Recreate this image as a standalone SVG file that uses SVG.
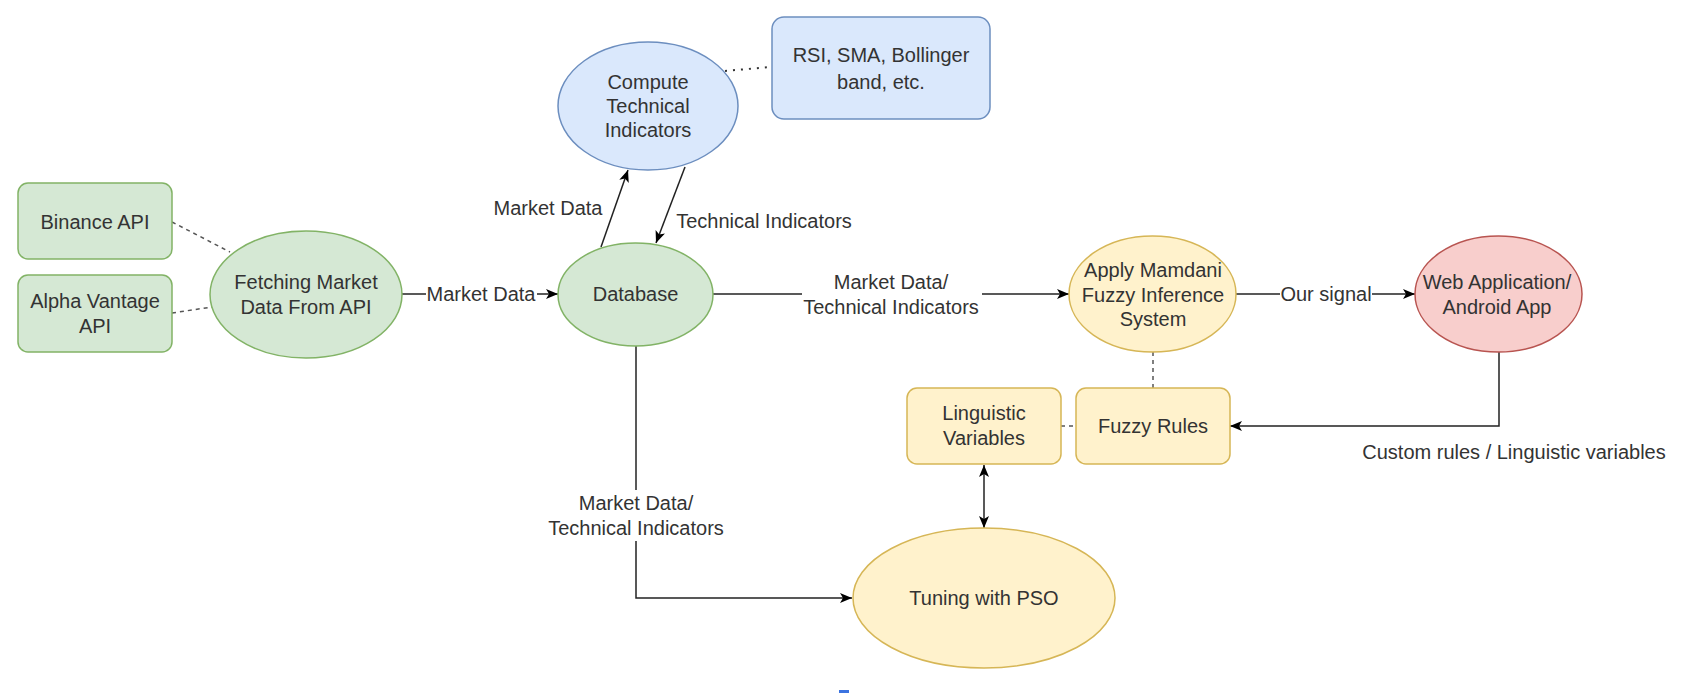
<svg xmlns="http://www.w3.org/2000/svg" width="1684" height="694" viewBox="0 0 1684 694">
<defs>
<style>
text{font-family:"Liberation Sans",Arial,sans-serif;font-size:20px;fill:#333333;text-anchor:middle;dominant-baseline:central}
.g{fill:#d5e8d4;stroke:#82b366;stroke-width:1.5}
.b{fill:#dae8fc;stroke:#6c8ebf;stroke-width:1.5}
.y{fill:#fff2cc;stroke:#d6b656;stroke-width:1.5}
.r{fill:#f8cecc;stroke:#b85450;stroke-width:1.5}
.ln{fill:none;stroke:#222222;stroke-width:1.5}
.ds{fill:none;stroke:#555555;stroke-width:1.5;stroke-dasharray:4 4}
.dt{fill:none;stroke:#333333;stroke-width:2;stroke-dasharray:2 6}
</style>
<marker id="arr" markerUnits="userSpaceOnUse" viewBox="0 0 12 10" refX="12" refY="5" markerWidth="12" markerHeight="10" orient="auto-start-reverse">
<path d="M0,0 L12,5 L0,10 L3,5 z" fill="#000000"/>
</marker>
</defs>
<rect width="1684" height="694" fill="#ffffff"/>

<g id="connectors">
<line class="ds" x1="172" y1="222" x2="230" y2="252"/>
<line class="ds" x1="172" y1="313" x2="212" y2="307"/>
<line class="dt" x1="725" y1="71" x2="770" y2="67"/>
<path class="ln" d="M402,294 L426,294"/>
<path class="ln" d="M537,294 L558,294" marker-end="url(#arr)"/>
<path class="ln" d="M601,247 L628,170" marker-end="url(#arr)"/>
<path class="ln" d="M685,167 L656,243" marker-end="url(#arr)"/>
<path class="ln" d="M713,294 L802,294"/>
<path class="ln" d="M982,294 L1069,294" marker-end="url(#arr)"/>
<path class="ln" d="M1236,294 L1280,294"/>
<path class="ln" d="M1372,294 L1415,294" marker-end="url(#arr)"/>
<path class="ln" d="M1499,352 L1499,426 L1230,426" marker-end="url(#arr)"/>
<line class="ds" x1="1153" y1="352" x2="1153" y2="388"/>
<line class="ds" x1="1061" y1="426" x2="1076" y2="426"/>
<path class="ln" d="M984,465 L984,528" marker-start="url(#arr)" marker-end="url(#arr)"/>
<path class="ln" d="M636,346 L636,490"/>
<path class="ln" d="M636,541 L636,598 L852,598" marker-end="url(#arr)"/>
<text x="481" y="294">Market Data</text>
<text x="548" y="208">Market Data</text>
<text x="764" y="221">Technical Indicators</text>
<text x="891" y="282">Market Data/</text>
<text x="891" y="307">Technical Indicators</text>
<text x="1326" y="294">Our signal</text>
<text x="1514" y="452">Custom rules / Linguistic variables</text>
<text x="636" y="503">Market Data/</text>
<text x="636" y="528">Technical Indicators</text>
</g>

<g id="binance">
<rect class="g" x="18" y="183" width="154" height="76" rx="10"/>
<text x="95" y="222">Binance API</text>
</g>
<g id="alpha">
<rect class="g" x="18" y="275" width="154" height="77" rx="10"/>
<text x="95" y="301">Alpha Vantage</text>
<text x="95" y="326">API</text>
</g>
<g id="fetching">
<ellipse class="g" cx="306" cy="294.5" rx="96" ry="63.5"/>
<text x="306" y="282">Fetching Market</text>
<text x="306" y="307">Data From API</text>
</g>
<g id="database">
<ellipse class="g" cx="635.5" cy="294.5" rx="77.5" ry="51.5"/>
<text x="635.5" y="294">Database</text>
</g>
<g id="compute">
<ellipse class="b" cx="648" cy="106" rx="90" ry="64"/>
<text x="648" y="82">Compute</text>
<text x="648" y="106">Technical</text>
<text x="648" y="130">Indicators</text>
</g>
<g id="indicators">
<rect class="b" x="772" y="17" width="218" height="102" rx="12"/>
<text x="881" y="55">RSI, SMA, Bollinger</text>
<text x="881" y="82">band, etc.</text>
</g>
<g id="mamdani">
<ellipse class="y" cx="1152.5" cy="294" rx="83.5" ry="58"/>
<text x="1153" y="270">Apply Mamdani</text>
<text x="1153" y="295">Fuzzy Inference</text>
<text x="1153" y="319">System</text>
</g>
<g id="webapp">
<ellipse class="r" cx="1498.5" cy="294" rx="83.5" ry="58"/>
<text x="1497" y="282">Web Application/</text>
<text x="1497" y="307">Android App</text>
</g>
<g id="linguistic">
<rect class="y" x="907" y="388" width="154" height="76" rx="10"/>
<text x="984" y="413">Linguistic</text>
<text x="984" y="438">Variables</text>
</g>
<g id="fuzzyrules">
<rect class="y" x="1076" y="388" width="154" height="76" rx="10"/>
<text x="1153" y="426">Fuzzy Rules</text>
</g>
<g id="pso">
<ellipse class="y" cx="984" cy="598" rx="131" ry="70"/>
<text x="984" y="598">Tuning with PSO</text>
</g>
<rect x="839" y="690" width="10" height="3" fill="#3b73e0"/>
</svg>
